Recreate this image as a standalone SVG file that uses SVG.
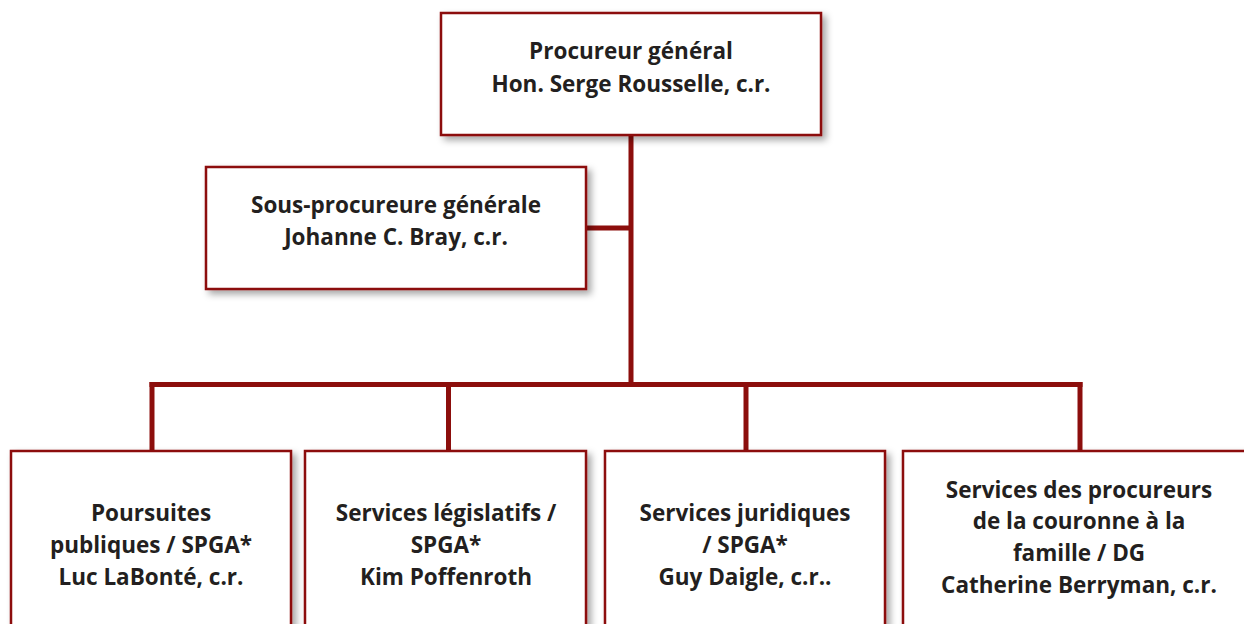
<svg xmlns="http://www.w3.org/2000/svg" width="1244" height="624" viewBox="0 0 1244 624">
<defs>
<filter id="sh" x="-10%" y="-10%" width="125%" height="130%">
<feDropShadow dx="4" dy="4" stdDeviation="3.5" flood-color="#000" flood-opacity="0.35"/>
</filter>
<style>
.box{fill:#fff;stroke:#8c0e0c;stroke-width:2.5;filter:url(#sh)}
.t{font-family:"Open Sans","Noto Sans","Liberation Sans",sans-serif;font-weight:700;font-size:22.5px;fill:#231f20;text-anchor:middle}
.c{stroke:#8c0e0c;stroke-width:5;fill:none}
</style>
</defs>
<rect width="1244" height="624" fill="#fff"/>
<g id="connectors">
<line class="c" x1="631" y1="135" x2="631" y2="387"/>
<line class="c" x1="586" y1="228" x2="631" y2="228"/>
<line class="c" x1="149.5" y1="384.5" x2="1082.5" y2="384.5"/>
<line class="c" x1="152" y1="382" x2="152" y2="451"/>
<line class="c" x1="448.5" y1="384" x2="448.5" y2="451"/>
<line class="c" x1="746" y1="384" x2="746" y2="451"/>
<line class="c" x1="1080" y1="382" x2="1080" y2="451"/>
</g>
<g id="procureur">
<rect class="box" x="441" y="13" width="380" height="122"/>
<text class="t" x="631" y="59">Procureur général</text>
<text class="t" x="631" y="92">Hon. Serge Rousselle, c.r.</text>
</g>
<g id="sous-procureure">
<rect class="box" x="206" y="167" width="380" height="122"/>
<text class="t" x="396" y="213">Sous-procureure générale</text>
<text class="t" x="396" y="245">Johanne C. Bray, c.r.</text>
</g>
<g id="poursuites">
<rect class="box" x="11" y="451" width="280" height="200"/>
<text class="t" x="151" y="521">Poursuites</text>
<text class="t" x="151" y="553">publiques / SPGA*</text>
<text class="t" x="151" y="585">Luc LaBonté, c.r.</text>
</g>
<g id="legislatifs">
<rect class="box" x="305" y="451" width="281" height="200"/>
<text class="t" x="446" y="521">Services législatifs /</text>
<text class="t" x="446" y="553">SPGA*</text>
<text class="t" x="446" y="585">Kim Poffenroth</text>
</g>
<g id="juridiques">
<rect class="box" x="605" y="451" width="280" height="200"/>
<text class="t" x="745" y="521">Services juridiques</text>
<text class="t" x="745" y="553">/ SPGA*</text>
<text class="t" x="745" y="585">Guy Daigle, c.r..</text>
</g>
<g id="famille">
<rect class="box" x="903" y="451" width="352" height="200"/>
<text class="t" x="1079" y="498">Services des procureurs</text>
<text class="t" x="1079" y="529">de la couronne à la</text>
<text class="t" x="1079" y="561">famille / DG</text>
<text class="t" x="1079" y="593">Catherine Berryman, c.r.</text>
</g>
</svg>
